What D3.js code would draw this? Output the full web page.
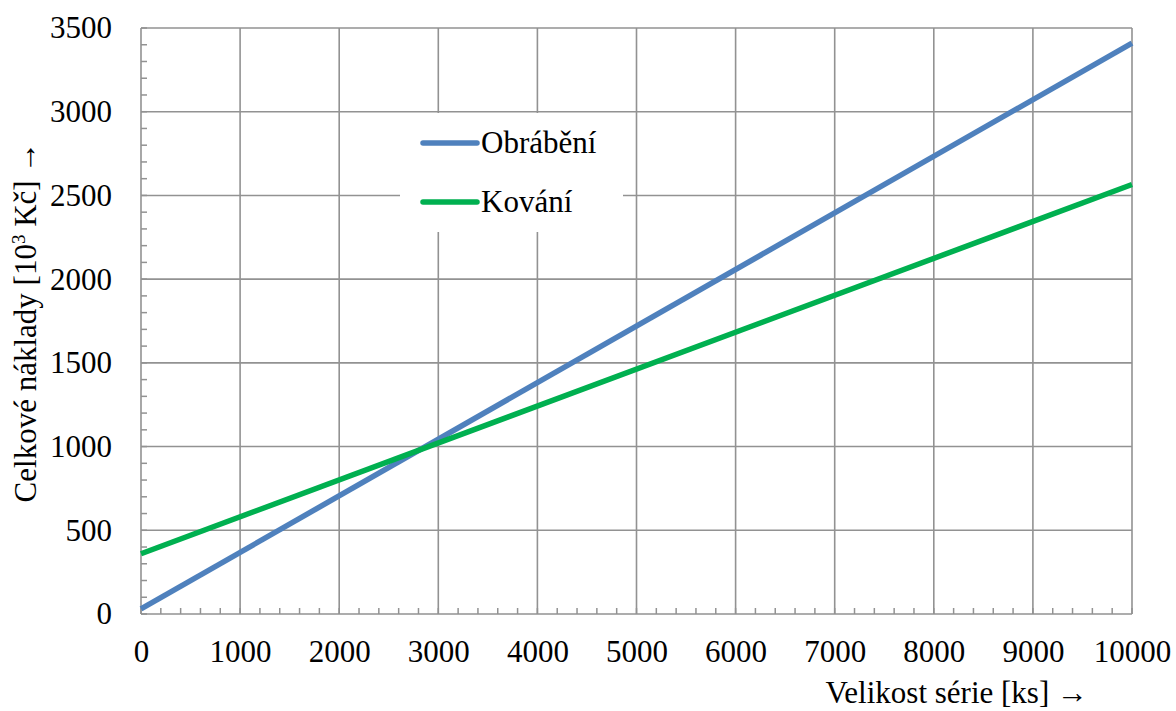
<!DOCTYPE html>
<html>
<head>
<meta charset="utf-8">
<script src="https://cdn.jsdelivr.net/npm/d3@7"></script>
<style>
  body { margin: 0; background: #fff; }
</style>
</head>
<body>
<div id="chart"></div>
<script>
// series (in thousands of Kč)
const seriesNames = ["Obrábění", "Kování"];
const seriesColors = ["#4f81bd", "#00b050"];
const xPoints = [0, 10000];
const obrabeni = [30, 3410];
const kovani = [360, 2565];
const xTicks = [0, 1000, 2000, 3000, 4000, 5000, 6000, 7000, 8000, 9000, 10000];
const yTicks = [0, 500, 1000, 1500, 2000, 2500, 3000, 3500];

const W = 1176, H = 711;
const margin = { top: 28, right: 44, bottom: 97, left: 141 };
const width = W - margin.left - margin.right;
const height = H - margin.top - margin.bottom;
const gridColor = "#929292";
const font = "'Liberation Serif', 'Times New Roman', serif";

const svg = d3.select("#chart").append("svg")
    .attr("width", W)
    .attr("height", H)
    .style("font-family", font);

const g = svg.append("g")
    .attr("transform", `translate(${margin.left},${margin.top})`);

const x = d3.scaleLinear().domain([0, 10000]).range([0, width]);
const y = d3.scaleLinear().domain([0, 3500]).range([height, 0]);

// grid
g.selectAll(".vgrid")
    .data(xTicks)
    .enter()
    .append("line")
    .attr("x1", d => x(d)).attr("x2", d => x(d))
    .attr("y1", 0).attr("y2", height)
    .attr("stroke", gridColor)
    .attr("stroke-width", 1.6);

g.selectAll(".hgrid")
    .data(yTicks)
    .enter()
    .append("line")
    .attr("x1", 0).attr("x2", width)
    .attr("y1", d => y(d)).attr("y2", d => y(d))
    .attr("stroke", gridColor)
    .attr("stroke-width", 1.6);

// minor ticks, pointing inwards
const xMinor = d3.range(0, 10001, 200);
const yMinor = d3.range(0, 3501, 100);

g.selectAll(".xminor")
    .data(xMinor)
    .enter()
    .append("line")
    .attr("x1", d => x(d)).attr("x2", d => x(d))
    .attr("y1", height).attr("y2", height - 6)
    .attr("stroke", gridColor)
    .attr("stroke-width", 1.5);

g.selectAll(".yminor")
    .data(yMinor)
    .enter()
    .append("line")
    .attr("x1", 0).attr("x2", 6)
    .attr("y1", d => y(d)).attr("y2", d => y(d))
    .attr("stroke", gridColor)
    .attr("stroke-width", 1.5);

// axes labels
const xAxis = g.append("g")
    .attr("transform", `translate(0,${height})`)
    .call(d3.axisBottom(x).tickValues(xTicks).tickSize(0).tickPadding(26).tickFormat(d3.format("d")));
xAxis.attr("font-family", null).attr("font-size", null);
xAxis.select(".domain").remove();
xAxis.selectAll("text")
    .style("font-family", font)
    .style("font-size", "31px")
    .attr("fill", "#000");

const yAxis = g.append("g")
    .call(d3.axisLeft(y).tickValues(yTicks).tickSize(0).tickPadding(29).tickFormat(d3.format("d")));
yAxis.attr("font-family", null).attr("font-size", null);
yAxis.select(".domain").remove();
yAxis.selectAll("text")
    .style("font-family", font)
    .style("font-size", "31px")
    .attr("fill", "#000");

// lines
const line = d3.line()
    .x((d, i) => x(xPoints[i]))
    .y(d => y(d));

[obrabeni, kovani].forEach((s, i) => {
    g.append("path")
        .datum(s)
        .attr("fill", "none")
        .attr("stroke", seriesColors[i])
        .attr("stroke-width", 5.5)
        .attr("d", line);
});

// legend
const legend = svg.append("g");
legend.append("rect")
    .attr("x", 400).attr("y", 113)
    .attr("width", 223).attr("height", 119)
    .attr("fill", "#fff");

seriesNames.forEach((name, i) => {
    const ly = 143 + i * 59;
    legend.append("line")
        .attr("x1", 423).attr("x2", 477)
        .attr("y1", ly).attr("y2", ly)
        .attr("stroke", seriesColors[i])
        .attr("stroke-width", 5.5)
        .attr("stroke-linecap", "round");
    legend.append("text")
        .attr("x", 481)
        .attr("y", ly + 10)
        .style("font-family", font)
        .style("font-size", "31px")
        .text(name);
});

// titles
svg.append("text")
    .attr("x", 1088)
    .attr("y", 703)
    .attr("text-anchor", "end")
    .style("font-family", font)
    .style("font-size", "31px")
    .text("Velikost série [ks] →");

svg.append("text")
    .attr("transform", "translate(36,322) rotate(-90)")
    .attr("text-anchor", "middle")
    .style("font-family", font)
    .style("font-size", "31px")
    .html("Celkové náklady [10<tspan dy='-11' font-size='19px'>3</tspan><tspan dy='11'> Kč] →</tspan>");
</script>
</body>
</html>
